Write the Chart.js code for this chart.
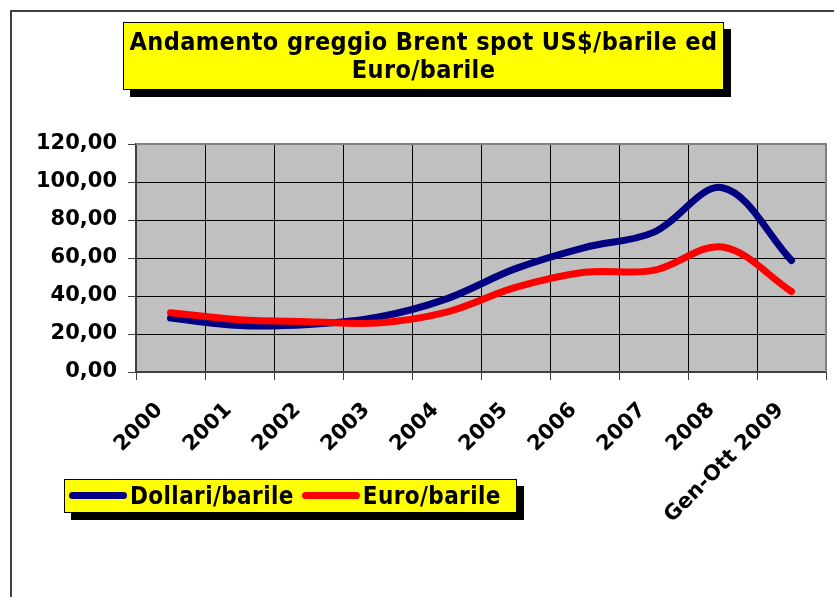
<!DOCTYPE html>
<html>
<head>
<meta charset="utf-8">
<script src="https://cdn.jsdelivr.net/npm/chart.js@4/dist/chart.umd.min.js"></script>
<style>
    body { margin: 0; background: #fff; }
    #wrap { position: relative; width: 834px; height: 597px; overflow: hidden; }
    #chart { position: absolute; left: 0; top: 0; }
    .box {
        position: absolute;
        box-sizing: border-box;
        background: #ffff00;
        border: 1px solid #000;
        box-shadow: 7px 7px 0 #000;
        font-family: "DejaVu Sans Condensed", "DejaVu Sans", sans-serif;
        font-weight: bold;
        color: #000;
    }
    #title {
        left: 123px; top: 22px; width: 601px; height: 68px;
        font-size: 25px; letter-spacing: 0.4px; line-height: 28px; text-align: center; padding-top: 5px;
    }
    #legend {
        left: 64px; top: 479px; width: 453px; height: 34px;
        font-size: 24px; letter-spacing: 0.4px; line-height: 32px; padding-left: 4px; white-space: nowrap;
    }
    #legend .item { display: inline-block; margin-right: 8px; }
    #legend .swatch {
        display: inline-block; width: 58px; height: 7px; border-radius: 4px;
        vertical-align: middle; margin-right: 3px; position: relative; top: -2px;
    }
</style>
</head>
<body>
<div id="wrap">
    <canvas id="chart" width="834" height="597"></canvas>
    <div id="title" class="box">Andamento greggio Brent spot US$/barile ed<br>Euro/barile</div>
    <div id="legend" class="box"></div>
</div>
<script>
const years = ["2000", "2001", "2002", "2003", "2004", "2005", "2006", "2007", "2008", "Gen-Ott 2009"];
const dollari = [28.4, 24.5, 25.0, 28.8, 38.5, 54.4, 65.5, 73.5, 97.0, 58.7];
const euro = [31.2, 27.5, 26.5, 25.8, 31.5, 44.5, 52.5, 53.5, 65.8, 42.4];
const yMin = 0;
const yMax = 120;
const yStep = 20;

const frame = {
    id: "frame",
    beforeDraw(chart) {
        const { ctx, chartArea: a } = chart;
        ctx.save();
        ctx.fillStyle = "#c0c0c0";
        ctx.fillRect(a.left, a.top, a.right - a.left, a.bottom - a.top);
        // outer chart border (only top and left are visible)
        ctx.strokeStyle = "#404040";
        ctx.lineWidth = 2;
        ctx.beginPath();
        ctx.moveTo(11, 600);
        ctx.lineTo(11, 11);
        ctx.lineTo(840, 11);
        ctx.stroke();
        ctx.restore();
    },
    afterDraw(chart) {
        const { ctx, chartArea: a } = chart;
        ctx.save();
        ctx.strokeStyle = "#808080";
        ctx.lineWidth = 2;
        ctx.beginPath();
        ctx.moveTo(a.left, a.top);
        ctx.lineTo(a.right, a.top);
        ctx.lineTo(a.right, a.bottom);
        ctx.stroke();
        ctx.restore();
    },
};

const axisFont = { family: "'DejaVu Sans', sans-serif", size: 21, weight: "bold" };

const chart = new Chart(document.getElementById("chart"), {
    type: "line",
    data: {
        labels: years,
        datasets: [
            {
                label: "Dollari/barile",
                data: dollari,
                borderColor: "#000080",
                backgroundColor: "#000080",
                order: 2,
            },
            {
                label: "Euro/barile",
                data: euro,
                borderColor: "#ff0000",
                backgroundColor: "#ff0000",
                order: 1,
            },
        ],
    },
    options: {
        responsive: false,
        animation: false,
        events: [],
        layout: { padding: { left: 0, top: 144, right: 8, bottom: 0 } },
        elements: {
            line: { borderWidth: 7, tension: 0.35, borderCapStyle: "round", borderJoinStyle: "round" },
            point: { radius: 0 },
        },
        plugins: {
            legend: { display: false },
            title: { display: false },
            tooltip: { enabled: false },
        },
        scales: {
            x: {
                offset: true,
                grid: { offset: true, color: "#000", lineWidth: 1, tickLength: 8, tickColor: "#404040" },
                border: { color: "#404040", width: 2 },
                ticks: {
                    color: "#000",
                    font: axisFont,
                    minRotation: 45,
                    maxRotation: 45,
                    padding: 18,
                    labelOffset: -11,
                    autoSkip: false,
                },
                afterFit(scale) { scale.height = 225; },
            },
            y: {
                min: yMin,
                max: yMax,
                grid: { color: "#000", lineWidth: 1, tickLength: 8, tickColor: "#404040" },
                border: { color: "#404040", width: 2 },
                ticks: {
                    stepSize: yStep,
                    color: "#000",
                    font: axisFont,
                    padding: 11,
                    callback: (v) => v.toFixed(2).replace(".", ","),
                },
                afterFit(scale) { scale.width = 136; },
            },
        },
    },
    plugins: [frame],
});

// legend built from the chart's datasets
const legend = document.getElementById("legend");
chart.data.datasets.forEach((ds) => {
    const item = document.createElement("span");
    item.className = "item";
    const sw = document.createElement("span");
    sw.className = "swatch";
    sw.style.background = ds.borderColor;
    item.appendChild(sw);
    item.appendChild(document.createTextNode(ds.label));
    legend.appendChild(item);
});
</script>
</body>
</html>
